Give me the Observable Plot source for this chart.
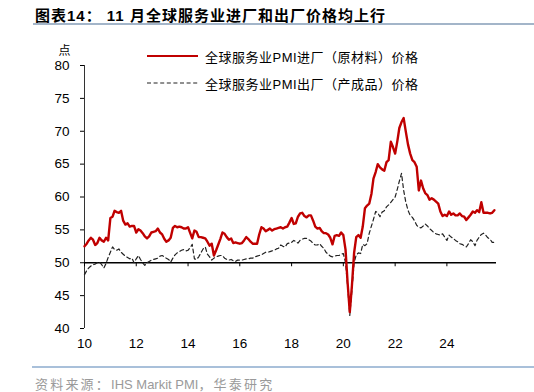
<!DOCTYPE html>
<html>
<head>
<meta charset="utf-8">
<script src="https://cdn.jsdelivr.net/npm/d3@7"></script>
<script src="https://cdn.jsdelivr.net/npm/@observablehq/plot@0.6"></script>
<style>
  body { margin: 0; background: #fff; }
  #wrap { position: relative; width: 534px; height: 392px; overflow: hidden;
          font-family: "Liberation Sans", "Noto Sans CJK SC", sans-serif; color: #000; }
  #title { position: absolute; left: 35px; top: 4px; font-size: 15px; font-weight: bold; white-space: nowrap; letter-spacing: 1px; }
  #titleRule { position: absolute; left: 33px; right: 0; top: 23px; height: 2px; background: #a3b5c9; }
  #chart { position: absolute; left: 0; top: 0; }
  .legend { position: absolute; left: 147px; height: 18px; display: flex; align-items: center;
            font-size: 13px; white-space: nowrap; letter-spacing: 0.5px; }
  .legend svg { margin-right: 7px; }
  #footRule { position: absolute; left: 32px; right: 0; top: 366px; height: 1.5px; background: #a9c0da; }
  #source { position: absolute; left: 35px; top: 374px; font-size: 13px; color: #9a9a9a; white-space: nowrap; }
  #source .cjk { letter-spacing: 2.2px; }
</style>
</head>
<body>
<div id="wrap">
  <div id="title">图表14： 11 月全球服务业进厂和出厂价格均上行</div>
  <div id="titleRule"></div>
  <div id="chart"></div>
  <div class="legend" style="top:47px">
    <svg width="51" height="6"><line x1="0" x2="51" y1="3" y2="3" stroke="#c00000" stroke-width="2.2"/></svg>
    <span id="legIn"></span>
  </div>
  <div class="legend" style="top:74px">
    <svg width="51" height="6"><line x1="0" x2="51" y1="3" y2="3" stroke="#222" stroke-width="1.2" stroke-dasharray="4,2.6"/></svg>
    <span id="legOut"></span>
  </div>
  <div id="footRule"></div>
  <div id="source"><span class="cjk">资料来源：</span>IHS Markit PMI<span class="cjk">，华泰研究</span></div>
</div>
<script>
// Series names
const seriesNames = ["全球服务业PMI进厂（原材料）价格", "全球服务业PMI出厂（产成品）价格"];

// Monthly readings, Jan 2010 – Nov 2025
const inputPrice = [
  52.5, 52.9, 53.4, 53.8, 53.5, 52.7, 53.0, 53.8, 53.4, 53.2, 53.8, 53.4, // 2010
  56.8, 57.0, 57.9, 57.7, 57.6, 57.9, 56.4, 55.8, 56.0, 55.5, 55.6, 55.6, // 2011
  54.6, 55.1, 54.9, 54.5, 54.0, 53.7, 54.0, 54.6, 54.7, 54.8, 55.2, 54.6, // 2012
  54.3, 53.6, 53.2, 53.4, 53.8, 55.3, 55.6, 55.4, 55.5, 55.4, 55.2, 55.2, // 2013
  55.4, 54.5, 53.7, 54.9, 54.7, 53.9, 53.9, 53.8, 53.7, 53.2, 52.6, 52.9, // 2014
  51.1, 51.9, 52.7, 53.6, 54.6, 54.4, 53.9, 53.5, 53.7, 53.0, 53.1, 53.0, // 2015
  52.9, 53.0, 53.4, 53.9, 53.6, 53.2, 52.9, 52.9, 52.9, 54.3, 55.4, 55.2, // 2016
  54.8, 55.0, 55.2, 54.9, 55.1, 55.2, 55.3, 55.4, 55.2, 55.4, 55.5, 56.1, // 2017
  56.8, 55.9, 56.0, 57.0, 57.5, 57.6, 57.1, 56.9, 57.2, 57.2, 56.4, 55.5, // 2018
  55.2, 55.3, 54.8, 54.5, 54.5, 54.3, 53.8, 52.8, 54.1, 54.2, 54.1, 54.6, // 2019
  54.2, 52.0, 47.0, 42.5, 46.5, 51.5, 53.9, 54.2, 53.8, 55.5, 58.3, 58.7, // 2020
  59.0, 60.5, 62.8, 63.8, 65.0, 64.5, 64.2, 64.0, 65.3, 65.6, 68.4, 67.6, // 2021
  66.6, 68.5, 70.5, 71.4, 72.0, 69.9, 68.0, 66.6, 65.6, 65.3, 64.6, 61.0, // 2022
  62.5, 61.3, 60.6, 60.3, 59.6, 59.8, 59.6, 59.3, 59.0, 57.8, 57.1, 57.3, // 2023
  57.1, 57.8, 57.3, 57.5, 57.2, 57.2, 57.5, 57.1, 57.0, 56.5, 56.9, 57.3, // 2024
  57.8, 57.6, 58.0, 57.7, 59.2, 57.6, 57.6, 57.6, 57.5, 57.6, 58.0        // 2025
];

const outputPrice = [
  48.2, 48.8, 49.2, 49.5, 49.7, 49.8, 50.0, 50.1, 49.7, 49.2, 49.9, 50.8, // 2010
  51.6, 52.4, 52.0, 51.9, 52.1, 51.6, 51.3, 51.0, 50.8, 50.6, 50.7, 50.0, // 2011
  50.6, 51.1, 50.5, 50.0, 49.6, 50.0, 50.2, 50.4, 50.5, 50.6, 50.7, 51.0, // 2012
  51.1, 50.9, 50.7, 50.5, 50.1, 50.7, 51.2, 51.5, 51.7, 51.9, 52.0, 51.8, // 2013
  51.9, 52.3, 52.8, 50.6, 50.5, 50.9, 51.5, 52.1, 52.4, 51.3, 50.9, 50.4, // 2014
  50.7, 50.9, 51.0, 51.1, 51.1, 50.7, 50.5, 50.4, 50.5, 50.3, 50.2, 50.4, // 2015
  50.4, 50.4, 50.5, 50.6, 50.6, 50.7, 50.7, 50.9, 51.0, 51.1, 51.2, 51.4, // 2016
  51.6, 51.6, 51.7, 51.8, 51.9, 52.1, 52.2, 52.7, 52.5, 52.4, 52.9, 53.0, // 2017
  53.1, 53.4, 53.2, 53.0, 53.4, 53.6, 53.7, 53.7, 53.5, 53.3, 52.9, 52.7, // 2018
  52.7, 52.9, 52.5, 52.2, 51.6, 51.3, 51.0, 50.9, 51.0, 51.1, 51.1, 51.3, // 2019
  51.4, 50.0, 46.5, 42.0, 45.8, 50.0, 51.2, 51.5, 51.4, 52.8, 52.6, 52.9, // 2020
  54.5, 55.6, 56.6, 57.8, 57.6, 57.0, 57.7, 57.9, 58.5, 58.8, 59.2, 59.6, // 2021
  60.0, 61.2, 62.4, 63.6, 61.0, 59.2, 58.0, 57.2, 56.9, 56.4, 55.7, 55.4, // 2022
  55.3, 55.6, 55.9, 55.6, 55.2, 54.9, 54.6, 54.4, 54.3, 54.2, 54.4, 53.9, // 2023
  53.4, 54.2, 53.9, 53.7, 53.4, 53.2, 52.9, 52.8, 52.6, 52.4, 52.9, 53.5, // 2024
  53.2, 52.6, 53.4, 53.9, 54.3, 54.5, 54.2, 53.8, 53.6, 53.1, 53.1        // 2025
];

// Axis ticks
const yTicks = [40, 45, 50, 55, 60, 65, 70, 75, 80];
const xTickYears = [2010, 2012, 2014, 2016, 2018, 2020, 2022, 2024];
const xTickLabels = ["10", "12", "14", "16", "18", "20", "22", "24"];
const unitLabel = "点";

document.getElementById("legIn").textContent = seriesNames[0];
document.getElementById("legOut").textContent = seriesNames[1];

const firstYear = 2010;
const rows = inputPrice.map((v, i) => ({
  date: new Date(Date.UTC(firstYear, i, 1)),
  input: v,
  output: outputPrice[i]
}));
const xStart = new Date(Date.UTC(firstYear, 0, 1));
const xEnd = new Date(Date.UTC(2025, 11, 1));
const xTicks = xTickYears.map(y => new Date(Date.UTC(y, 0, 1)));
const labelOf = new Map(xTicks.map((d, i) => [+d, xTickLabels[i]]));

const chart = Plot.plot({
  width: 534,
  height: 392,
  marginLeft: 84,
  marginRight: 38,
  marginTop: 65,
  marginBottom: 64,
  style: { fontFamily: '"Liberation Sans", "Noto Sans CJK SC", sans-serif', fontSize: "13.5px", color: "#000", background: "transparent" },
  x: { type: "utc", domain: [xStart, xEnd] },
  y: { domain: [40, 80] },
  marks: [
    Plot.axisY({ ticks: yTicks, tickSize: 4, tickPadding: 11, label: null, fontSize: 13.5 }),
    Plot.ruleX([xStart], { stroke: "#333", strokeWidth: 1 }),
    Plot.axisX({ ticks: xTicks, tickFormat: d => labelOf.get(+d), tickSize: 0, tickPadding: 10, label: null, fontSize: 13.5 }),
    Plot.ruleY([50], { stroke: "#000", strokeWidth: 1.5 }),
    Plot.ruleX(xTicks, { x: d => d, y1: 50, y2: 50, insetBottom: -4, stroke: "#000", strokeWidth: 1 }),
    Plot.line(rows, { x: "date", y: "output", stroke: "#222", strokeWidth: 1.2, strokeDasharray: "4,3" }),
    Plot.line(rows, { x: "date", y: "input", stroke: "#c00000", strokeWidth: 2.4 }),
    Plot.text([unitLabel], { frameAnchor: "top-left", dx: -26, dy: -19, fontSize: 12 })
  ]
});
document.getElementById("chart").appendChild(chart);
</script>
</body>
</html>
